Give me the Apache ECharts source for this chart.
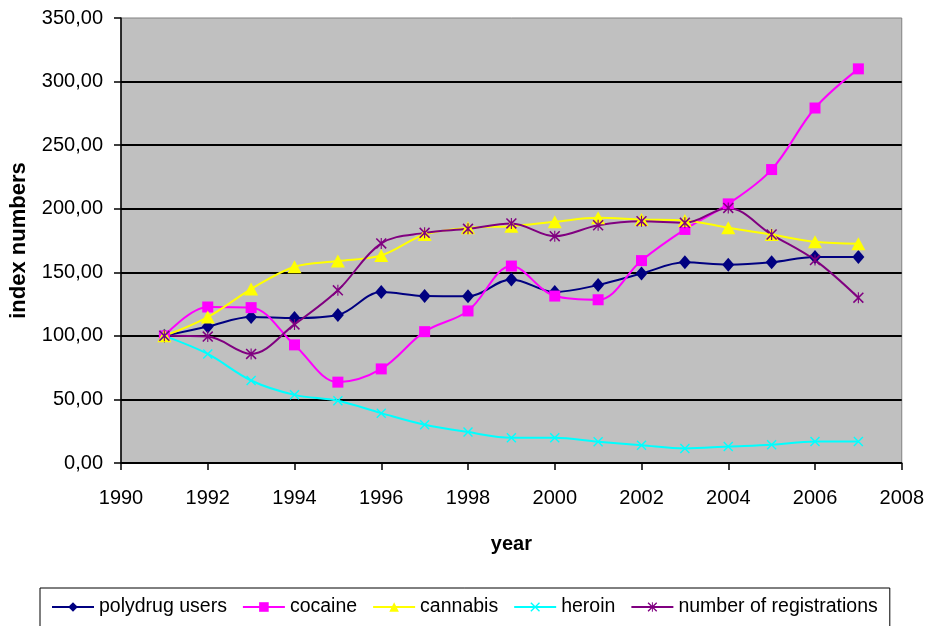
<!DOCTYPE html>
<html>
<head>
<meta charset="utf-8">
<title>index numbers</title>
<script src="https://cdn.jsdelivr.net/npm/echarts@6/dist/echarts.min.js"></script>
<style>
  html, body { margin: 0; padding: 0; background: #ffffff; }
  #chart { width: 927px; height: 626px; }
</style>
</head>
<body>
<div id="chart"></div>
<script>
// Years on the x axis
const years = [1991, 1992, 1993, 1994, 1995, 1996, 1997, 1998, 1999, 2000, 2001, 2002, 2003, 2004, 2005, 2006, 2007];

// Index numbers (1991 = 100)
const polydrugUsers = [100, 107.3, 114.8, 114, 116.4, 134.5, 131.3, 131.1, 144.4, 134.5, 140, 149, 157.8, 156, 157.8, 162, 162];
const cocaine = [100, 122.7, 122.2, 92.9, 63.6, 74, 103.3, 119.6, 154.9, 131.3, 128.4, 159.2, 183.7, 203.8, 230.8, 279.2, 310];
const cannabis = [100, 114.8, 136.8, 154.4, 158.8, 163.3, 179.7, 185, 186.3, 189.7, 192.8, 191.5, 190.7, 185, 179.7, 174, 172.4];
const heroin = [100, 85.8, 64.9, 53.6, 48.9, 39.2, 30.1, 24.3, 19.9, 19.9, 16.7, 14, 11.5, 13, 14.4, 17, 17];
const registrations = [100, 99.4, 85.8, 109, 135.8, 172.7, 181, 184.2, 188.4, 178.4, 187, 190.2, 188.9, 200.6, 179.7, 159.6, 130];

const seriesNames = ['polydrug users', 'cocaine', 'cannabis', 'heroin', 'number of registrations'];

const FONT = "'Liberation Sans', Arial, sans-serif";

// Marker shapes
const crossPath = 'path://M0,2 L2,0 L20,18 L18,20 Z M18,0 L20,2 L2,20 L0,18 Z';
const starPath = 'path://M0,2 L2,0 L20,18 L18,20 Z M18,0 L20,2 L2,20 L0,18 Z M9,0 L11,0 L11,20 L9,20 Z';

function pairs(values) {
  return years.map((y, i) => [y, values[i]]);
}

function lineSeries(name, values, color, symbol, symbolSize) {
  return {
    name: name,
    type: 'line',
    data: pairs(values),
    smooth: 0.35,
    symbol: symbol,
    symbolSize: symbolSize,
    showAllSymbol: true,
    lineStyle: { color: color, width: 2 },
    itemStyle: { color: color, borderWidth: 0 },
    emphasis: { disabled: true }
  };
}

const chart = echarts.init(document.getElementById('chart'), null, { renderer: 'canvas' });

chart.setOption({
  animation: false,
  backgroundColor: '#ffffff',
  textStyle: { fontFamily: FONT, color: '#000' },
  grid: {
    left: 121,
    right: 23,
    top: 18,
    bottom: 163,
    show: true,
    backgroundColor: '#c0c0c0',
    borderColor: '#808080',
    borderWidth: 1
  },
  xAxis: {
    type: 'value',
    min: 1990,
    max: 2008,
    interval: 2,
    name: 'year',
    nameLocation: 'middle',
    nameGap: 71,
    nameTextStyle: { fontFamily: FONT, fontWeight: 'bold', fontSize: 20, color: '#000' },
    axisLine: { show: true, onZero: false, lineStyle: { color: '#000', width: 1.5 } },
    axisTick: { show: true, inside: false, length: 7, lineStyle: { color: '#000', width: 1.5 } },
    axisLabel: {
      margin: 25,
      fontFamily: FONT,
      fontSize: 20,
      color: '#000',
      formatter: v => String(v)
    },
    splitLine: { show: false }
  },
  yAxis: {
    type: 'value',
    min: 0,
    max: 350,
    interval: 50,
    name: 'index numbers',
    nameLocation: 'middle',
    nameGap: 91,
    nameRotate: 90,
    nameTextStyle: { fontFamily: FONT, fontWeight: 'bold', fontSize: 22, color: '#000' },
    axisLine: { show: true, lineStyle: { color: '#000', width: 1.5 } },
    axisTick: { show: true, inside: false, length: 7, lineStyle: { color: '#000', width: 1.5 } },
    axisLabel: {
      margin: 18,
      fontFamily: FONT,
      fontSize: 20,
      color: '#000',
      padding: [4, 0, 0, 0],
      formatter: v => v.toFixed(2).replace('.', ',')
    },
    splitLine: {
      show: true,
      lineStyle: {
        color: ['#000', '#000', '#000', '#000', '#000', '#000', '#000', 'rgba(0,0,0,0)'],
        width: 2
      }
    }
  },
  legend: {
    data: seriesNames,
    left: 40,
    top: 588,
    orient: 'horizontal',
    itemWidth: 42,
    itemHeight: 12,
    itemGap: 15,
    padding: [9, 12, 10, 11],
    borderColor: '#000',
    borderWidth: 1,
    backgroundColor: '#ffffff',
    textStyle: { fontFamily: FONT, fontSize: 19.5, color: '#000' }
  },
  series: [
    lineSeries(seriesNames[0], polydrugUsers, '#000080', 'diamond', [12, 14]),
    lineSeries(seriesNames[1], cocaine, '#ff00ff', 'rect', 11),
    lineSeries(seriesNames[2], cannabis, '#ffff00', 'triangle', [14, 13]),
    lineSeries(seriesNames[3], heroin, '#00ffff', crossPath, 10),
    lineSeries(seriesNames[4], registrations, '#800080', starPath, 11)
  ]
});
</script>
</body>
</html>
